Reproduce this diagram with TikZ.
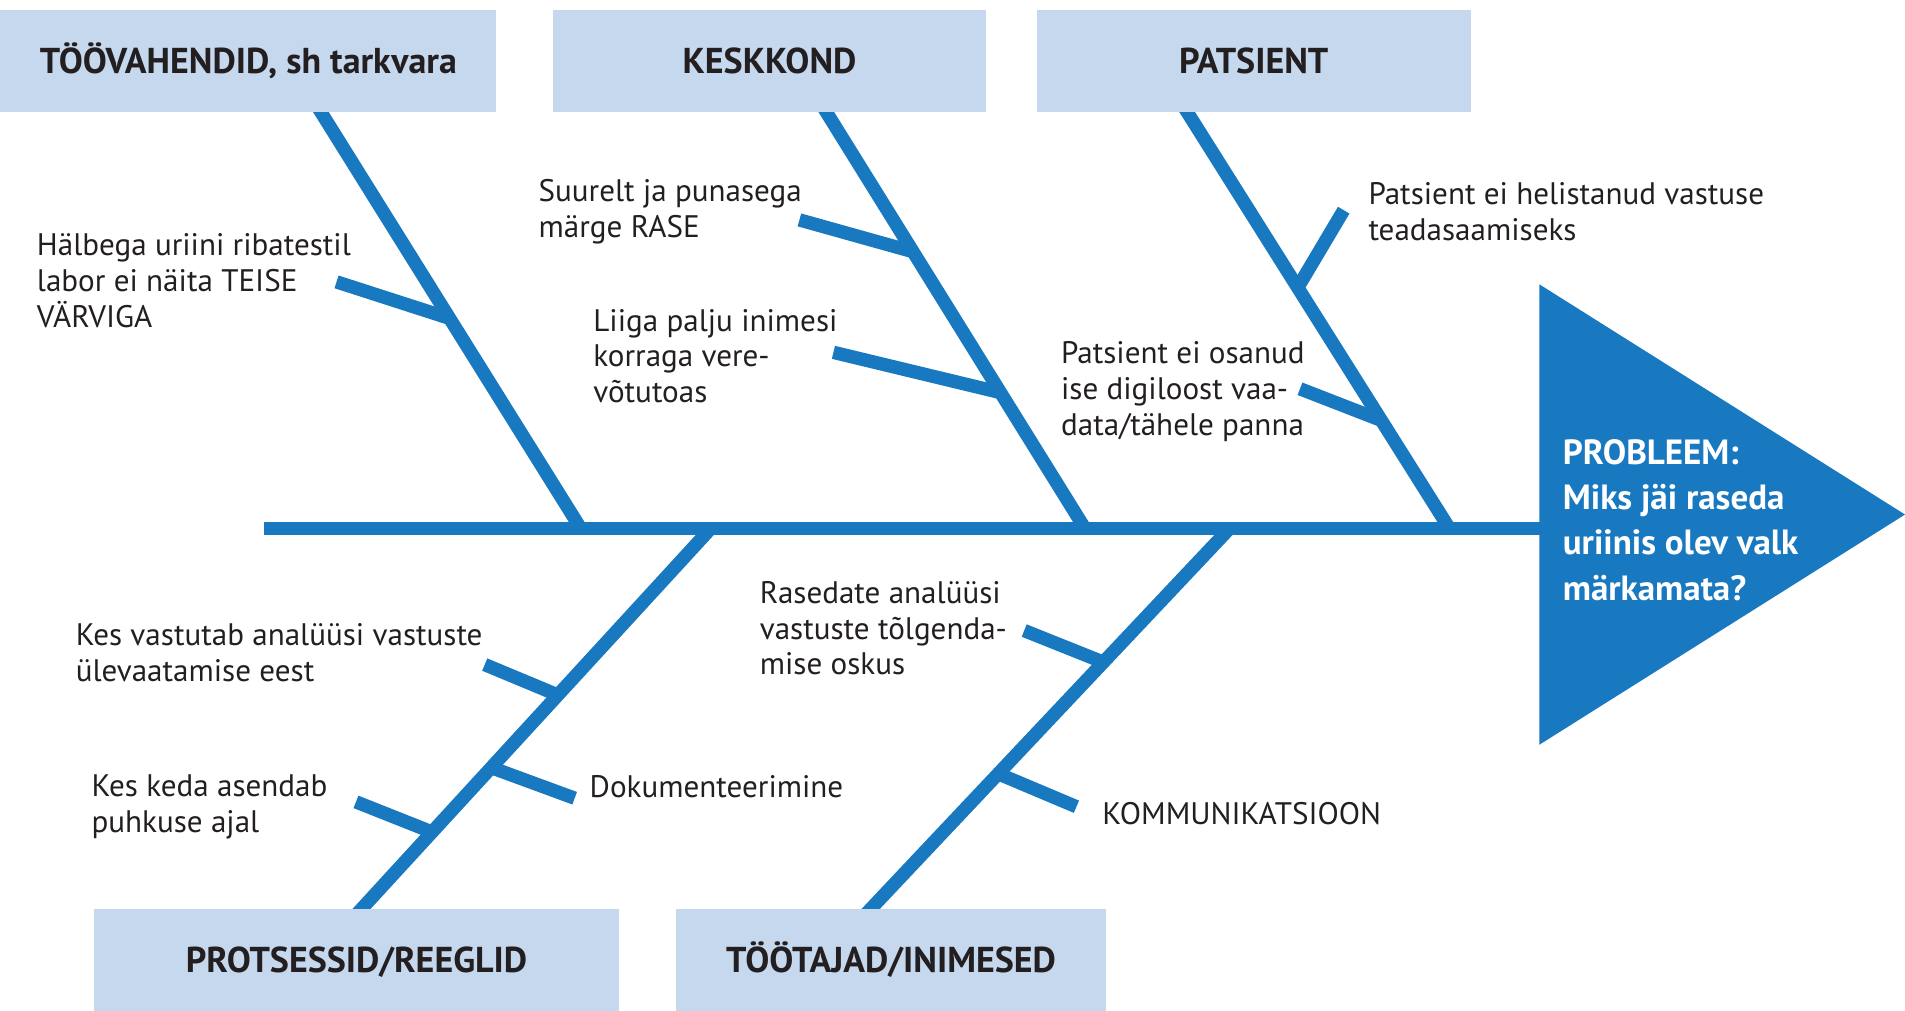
\documentclass[tikz,border=0pt]{standalone}
\usepackage{fontspec}
\setmainfont{PT Sans}
\usetikzlibrary{calc}
\definecolor{fishblue}{RGB}{24,120,192}
\definecolor{boxblue}{RGB}{197,216,238}
\definecolor{txt}{RGB}{35,31,32}
\begin{document}
\begin{tikzpicture}[x=0.5pt,y=-0.5pt,
  bone/.style={draw=fishblue, line width=5.5pt},
  rib/.style={draw=fishblue, line width=5.5pt},
  catbox/.style={fill=boxblue, anchor=north west, minimum height=42pt, inner sep=0pt,
    text height=10.4pt, text depth=0pt,
    font=\bfseries\fontsize{14.8}{17}\selectfont, text=txt},
  cause/.style={anchor=north west, align=left, inner sep=0pt,
    font=\fontsize{12.8}{14.75}\selectfont, text=txt},
  probtext/.style={anchor=north west, align=left, inner sep=0pt,
    font=\bfseries\fontsize{14.4}{18.65}\selectfont, text=white}]
\useasboundingbox (0,0) rectangle (1568,832);
% coordinates of the skeleton
\coordinate (sl) at (217,435);
\coordinate (head) at (1268,435);
\coordinate (t1) at (261.5,88);  \coordinate (j1) at (478,435);
\coordinate (t2) at (677.5,88);  \coordinate (j2) at (893,435);
\coordinate (t3) at (974.5,88);  \coordinate (j3) at (1193,435);
\coordinate (j4) at (585,435);   \coordinate (t4) at (294,752);
\coordinate (j5) at (1012,435);  \coordinate (t5) at (713,752);
% ribs: free ends and joins
\coordinate (f1) at (277,232);  \coordinate (k1) at (370,262);
\coordinate (f2) at (658,181);  \coordinate (k2) at (751,207);
\coordinate (f3) at (686,290);  \coordinate (k3) at (823,323);
\coordinate (f4) at (1106,173); \coordinate (k4) at (1068,237);
\coordinate (f5) at (1070,320); \coordinate (k5) at (1137,346);
\coordinate (f6) at (399,547);  \coordinate (k6) at (459,572);
\coordinate (f7) at (473,657);  \coordinate (k7) at (405,632);
\coordinate (f8) at (293,660);  \coordinate (k8) at (356,685);
\coordinate (f9) at (843,519);  \coordinate (k9) at (908,545);
\coordinate (f10) at (886,664); \coordinate (k10) at (822,637);
% head
\fill[fishblue] (1267,234) -- (1568,423.5) -- (1267,613) -- cycle;
% bones
\draw[bone] (sl) -- (head);
\draw[bone] (t1) -- (j1);
\draw[bone] (t2) -- (j2);
\draw[bone] (t3) -- (j3);
\draw[bone] (j4) -- (t4);
\draw[bone] (j5) -- (t5);
\foreach \i in {1,...,10} {\draw[rib] (f\i) -- (k\i);}
% boxes
\node[catbox, minimum width=204pt] (tv) at (0,8) {TÖÖVAHENDID, sh tarkvara};
\node[catbox, minimum width=178pt] (kk) at (455,8) {KESKKOND};
\node[catbox, minimum width=178.5pt] (pa) at (853,8) {PATSIENT};
\node[catbox, minimum width=216pt] (pr) at (77,748) {PROTSESSID/REEGLID};
\node[catbox, minimum width=177pt] (ti) at (556,748) {TÖÖTAJAD/INIMESED};
% cause texts
\node[cause] (c1) at (30,192) {Hälbega uriini ribatestil\\labor ei näita TEISE\\VÄRVIGA};
\node[cause] (c2) at (443,147) {Suurelt ja punasega\\märge RASE};
\node[cause] (c3) at (488,254) {Liiga palju inimesi\\korraga vere-\\võtutoas};
\node[cause] (c4) at (1126,150) {Patsient ei helistanud vastuse\\teadasaamiseks};
\node[cause] (c5) at (873,281) {Patsient ei osanud\\ise digiloost vaa-\\data/tähele panna};
\node[cause] (c6) at (62,513) {Kes vastutab analüüsi vastuste\\ülevaatamise eest};
\node[cause] (c7) at (485,638) {Dokumenteerimine};
\node[cause] (c8) at (75,637) {Kes keda asendab\\puhkuse ajal};
\node[cause] (c9) at (625,478) {Rasedate analüüsi\\vastuste tõlgenda-\\mise oskus};
\node[cause] (c10) at (907,660) {KOMMUNIKATSIOON};
\node[probtext] (prob) at (1286,361) {PROBLEEM:\\Miks jäi raseda\\uriinis olev valk\\märkamata?};
\end{tikzpicture}
\end{document}
